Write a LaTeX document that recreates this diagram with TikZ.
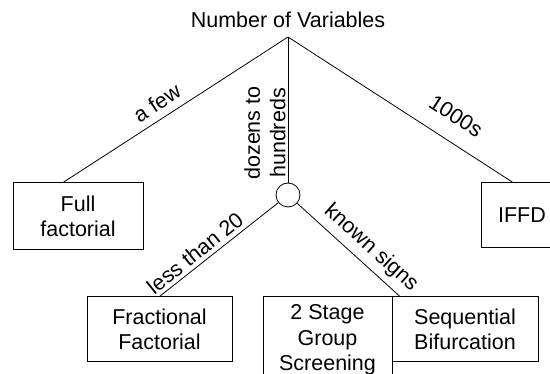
\documentclass[tikz,border=0pt]{standalone}
\usepackage{fontspec}
\setmainfont{Liberation Sans}
\begin{document}
\begin{tikzpicture}[x=1pt,y=-1pt,
  every node/.style={font=\fontsize{21.5}{25.5}\selectfont},
  leaf/.style={draw,line width=1pt,align=center,inner sep=0pt},
  branch/.style={draw,line width=0.8pt},
  edgelabel/.style={inner sep=0pt}]
  \useasboundingbox (0,0) rectangle (550,374);
  \clip (0,0) rectangle (550,374);

  % root question and the point where the branches split
  \node (title) at (288,20) {Number of Variables};
  \coordinate (apex) at (288,37);

  % outcome boxes
  \node[leaf,minimum width=130pt,minimum height=67pt] (full) at (78,216.5) {Full\\factorial};
  \node[leaf,minimum width=82pt,minimum height=65pt] (iffd) at (522,215.5) {IFFD};
  \node[draw,line width=0.8pt,circle,minimum size=24pt,inner sep=0pt] (hub) at (288,195) {};
  \node[leaf,minimum width=145pt,minimum height=65pt] (frac) at (159.5,329.5) {Fractional\\Factorial};
  \node[leaf,minimum width=129pt,minimum height=86pt] (twostage) at (327.5,340) {2 Stage\\Group\\Screening};
  \node[leaf,minimum width=146pt,minimum height=65pt] (seqbif) at (465,329.5) {Sequential\\Bifurcation};

  % branches
  \draw[branch] (apex) -- ([xshift=-15pt]full.north);
  \draw[branch] (apex) -- ([xshift=-9pt]iffd.north);
  \draw[branch] (apex) -- (hub.north);
  \draw[branch] (hub) -- (frac.north);
  \draw[branch] (hub) -- ([xshift=-65pt]seqbif.north);

  % branch labels
  \node[edgelabel,rotate=33] (lfew) at (157,103) {a few};
  \node[edgelabel,rotate=-33] (lthousands) at (456,116) {1000s};
  \node[edgelabel,rotate=90,align=center] (ldozens) at (265,133) {dozens to\\hundreds};
  \node[edgelabel,rotate=38.6] (lless) at (195,253) {less than 20};
  \node[edgelabel,rotate=-42] (lknown) at (371,248) {known signs};
\end{tikzpicture}
\end{document}
